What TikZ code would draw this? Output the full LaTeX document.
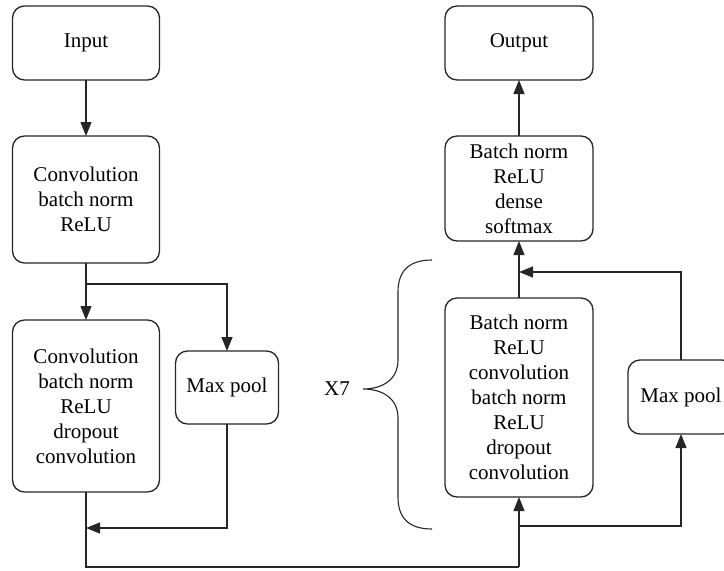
\documentclass[tikz,border=0pt]{standalone}
\usepackage{fontspec}
\setmainfont{Liberation Serif}
\usetikzlibrary{arrows.meta}
\begin{document}
\begin{tikzpicture}[x=1pt,y=-1pt,
  box/.style={draw=black!85, line width=1.3pt, rounded corners=12pt, align=center,
    font=\fontsize{21}{25}\selectfont, inner sep=0pt, outer sep=0pt},
  conn/.style={draw=black!85, line width=1.3pt},
  arr/.style={conn, -{Triangle[length=14pt,width=11pt]}}]
\useasboundingbox (0,0) rectangle (724,571);
\clip (0,0) rectangle (724,571);
% nodes
\node[box, minimum width=147pt, minimum height=74pt] (in) at (86,43) {Input};
\node[box, minimum width=147pt, minimum height=127pt] (conv1) at (86,199.5) {Convolution\\batch norm\\ReLU};
\node[box, minimum width=147pt, minimum height=172pt] (blk1) at (86,406) {Convolution\\batch norm\\ReLU\\dropout\\convolution};
\node[box, minimum width=103pt, minimum height=73pt] (mp1) at (227,387.5) {Max pool};
\node[box, minimum width=148pt, minimum height=74pt] (out) at (519,43) {Output};
\node[box, minimum width=148pt, minimum height=105pt] (head) at (519,188.5) {Batch norm\\ReLU\\dense\\softmax};
\node[box, minimum width=148pt, minimum height=199pt] (blk2) at (519,397.5) {Batch norm\\ReLU\\convolution\\batch norm\\ReLU\\dropout\\convolution};
\node[box, minimum width=106pt, minimum height=74pt] (mp2) at (681,397) {Max pool};
\node[font=\fontsize{21}{25}\selectfont, anchor=east, inner sep=0pt] (x7) at (350,389) {X7};
% junction coordinates
\coordinate (s1) at (86,284);
\coordinate (j1) at (86,528);
\coordinate (b1) at (86,567);
\coordinate (b2) at (519,567);
\coordinate (s2) at (519,526);
\coordinate (j2) at (519,272);
% connectors
\draw[arr] (in.south) -- (conv1.north);
\draw[conn] (conv1.south) -- (s1);
\draw[arr] (s1) -- (blk1.north);
\draw[arr] (s1) -| (mp1.north);
\draw[arr] (mp1.south) |- (j1);
\draw[conn] (blk1.south) -- (b1) -- (b2);
\draw[arr] (b2) -- (blk2.south);
\draw[arr] (s2) -| (mp2.south);
\draw[arr] (blk2.north) -- (head.south);
\draw[arr] (mp2.north) |- (j2);
\draw[arr] (head.north) -- (out.south);
% brace
\draw[conn, line width=1.1pt] (432,260) .. controls (410,260) and (398,270) .. (398,292)
  -- (398,360) .. controls (398,380) and (382,389) .. (363,389)
  .. controls (382,389) and (398,398) .. (398,418)
  -- (398,497) .. controls (398,519) and (410,529) .. (432,529);
\end{tikzpicture}
\end{document}
